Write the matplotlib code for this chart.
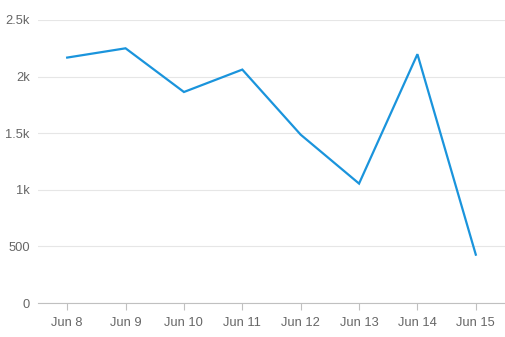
import matplotlib
matplotlib.use("Agg")
import matplotlib.pyplot as plt
from matplotlib.ticker import FuncFormatter

categories = ["Jun 8", "Jun 9", "Jun 10", "Jun 11", "Jun 12", "Jun 13", "Jun 14", "Jun 15"]
values = [2168, 2250, 1864, 2062, 1487, 1055, 2198, 427]
yticks = [0, 500, 1000, 1500, 2000, 2500]

plt.rcParams['font.family'] = ['Liberation Sans', 'DejaVu Sans']

fig = plt.figure(figsize=(5.06, 3.37), dpi=100)
ax = fig.add_axes([38/506, 34/337, 1 - 38/506 - 0.002, (303-20)/337])

x = list(range(len(categories)))
ax.plot(x, values, color="#1a94dc", linewidth=1.6, solid_joinstyle="miter")

ax.set_xlim(-0.5, len(categories) - 0.5)
ax.set_ylim(0, 2500)
ax.set_yticks(yticks)

def fmt(v, pos):
    if v >= 1000:
        return f"{v/1000:g}k"
    return f"{int(v)}"
ax.yaxis.set_major_formatter(FuncFormatter(fmt))
ax.set_xticks(x)
ax.set_xticklabels(categories)

ax.grid(axis="y", color="#e6e6e6", linewidth=0.8)
ax.set_axisbelow(True)
for s in ["top", "right", "left"]:
    ax.spines[s].set_visible(False)
ax.spines["bottom"].set_color("#c0c0c0")
ax.spines["bottom"].set_linewidth(0.8)

ax.tick_params(axis="y", length=0, pad=6, labelsize=9.3, labelcolor="#666666")
ax.tick_params(axis="x", length=5, color="#c0c0c0", pad=5, labelsize=9.3, labelcolor="#666666")

fig.savefig("out.png", dpi=100)
